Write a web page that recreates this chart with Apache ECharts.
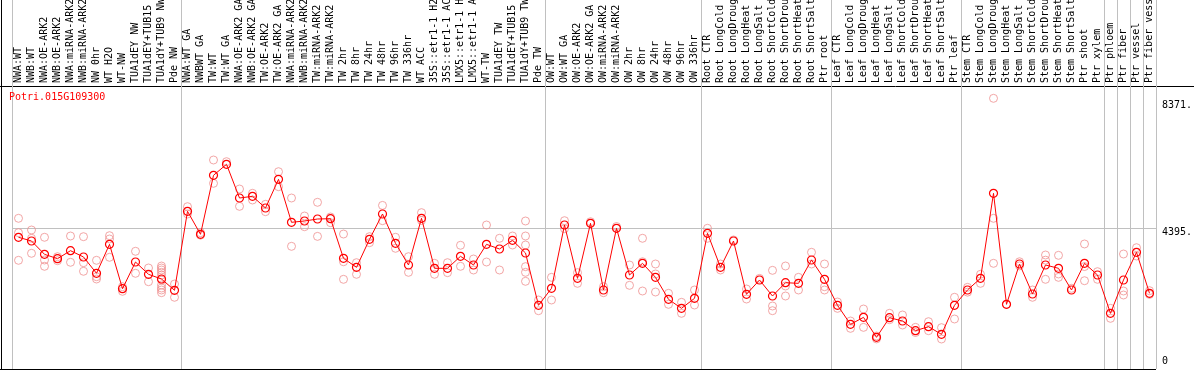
<!DOCTYPE html>
<html><head><meta charset="utf-8">
<script src="https://cdn.jsdelivr.net/npm/echarts@6/dist/echarts.min.js"></script>
<style>html,body{margin:0;padding:0;background:#fff}#c{width:1194px;height:370px}</style>
</head><body><div id="c"></div>
<script>
const geneName = 'Potri.015G109300';

const categories = [
'NWA:WT','NWB:WT','NWA:OE-ARK2','NWB:OE-ARK2','NWA:miRNA-ARK2','NWB:miRNA-ARK2','NW 0hr','WT H2O','WT-NW','TUA1dEY NW','TUA1dEY+TUB15 NW','TUA1dY+TUB9 NW','Pde NW',
'NWA:WT GA','NWBWT GA','TW:WT','TW:WT GA','NWA:OE-ARK2 GA','NWB:OE-ARK2 GA','TW:OE-ARK2','TW:OE-ARK2 GA','NWA:miRNA-ARK2 GA','NWB:miRNA-ARK2 GA','TW:miRNA-ARK2','TW:miRNA-ARK2 GA','TW 2hr','TW 8hr','TW 24hr','TW 48hr','TW 96hr','TW 336hr','WT ACC','35S::etr1-1 H2O','35S::etr1-1 ACC','LMX5::etr1-1 H2O','LMX5::etr1-1 ACC','WT-TW','TUA1dEY TW','TUA1dEY+TUB15 TW','TUA1dY+TUB9 TW','Pde TW',
'OW:WT','OW:WT GA','OW:OE-ARK2','OW:OE-ARK2 GA','OW:miRNA-ARK2','OW:miRNA-ARK2 GA','OW 2hr','OW 8hr','OW 24hr','OW 48hr','OW 96hr','OW 336hr',
'Root CTR','Root LongCold','Root LongDrought','Root LongHeat','Root LongSalt','Root ShortCold','Root ShortDrought','Root ShortHeat','Root ShortSalt','Ptr root',
'Leaf CTR','Leaf LongCold','Leaf LongDrought','Leaf LongHeat','Leaf LongSalt','Leaf ShortCold','Leaf ShortDrought','Leaf ShortHeat','Leaf ShortSalt','Ptr leaf',
'Stem CTR','Stem LongCold','Stem LongDrought','Stem LongHeat','Stem LongSalt','Stem ShortCold','Stem ShortDrought','Stem ShortHeat','Stem ShortSalt','Ptr shoot','Ptr xylem',
'Ptr phloem','Ptr fiber','Ptr vessel','Ptr fiber vessel'
];

const means = [
4114, 3998, 3582, 3446, 3696, 3499, 2989, 3894, 2508, 3342, 2958, 2811, 2458,
4926, 4208, 6050, 6394, 5341, 5394, 5029, 5925, 4582, 4623, 4685, 4695, 3457, 3176, 4051, 4842, 3926,
3249, 4707, 3145, 3145, 3520, 3249, 3894, 3748, 4020, 3623, 1990,
2520, 4498, 2832, 4550, 2468, 4395, 2936, 3301, 2863, 2176, 1895, 2207,
4238, 3176, 3998, 2333, 2780, 2280, 2696, 2676, 3405, 2801,
1990, 1395, 1614, 989, 1603, 1499, 1197, 1322, 1083, 1990,
2468, 2832, 5488, 2020, 3280, 2343, 3249, 3145, 2468, 3301, 2936,
1739, 2780, 3645, 2364
];

const replicates = [
[4707,4258,3395],[4342,4083,3614],[4114,3405,3208],[3508,3383],[4154,3333],[4133,3321,3052],[3395,2883,2811],[4164,4061,3489],[2571,2427],[3677,2989],[3155,2727],[3217,3155,3092,3020,2936,2780,2624,2530,2468,2384],[2655,2240],
[5070,4842],[4258,4180],[6528,5800],[6476],[5622,5081],[5488,5279],[5144,4914],[6163,5695],[5341,3832],[4779,4445],[5207,4143],[4748,4570],[4216,3351,2801],[3321,2958],[4133,3946],[5110,4633],[4114,3770],
[3508,3020],[4884,4640],[3301,2958],[3321,3009],[3864,3208],[3436,3092],[4498,3342],[4083,3092],[4154,3873],[4623,4154,3873,3197,3020,2739],[2155,1821],
[2863,2155],[4633,4383],[3009,2676],[4600],[2571,2384],[4450],[3249,2614],[4083,3350,2436],[3280,2968,2405],[2364,2020],[2083,1739],[2468,1999],
[4395,4083],[3280,3092],[4030],[2499,2186],[2830],[3082,1968,1821],[3217,2593,2280],[2863,2468],[3645,3280],[3280,2571,2468],
[2093,1895],[1499,1270],[1874,1301],[1030,940],[1739,1540],[1687,1374],[1301,1140],[1478,1197],[1291,937],[2240,1562],
[2551,2400],[2958,2676],[8455,4707,3301],[2020],[3350,3220],[2468,2240],[3561,3400,2801],[3551,2968,2863],[2520],[3905,3200,2758],[3040,2801],
[1895,1583],[3592,2436,2311],[3789,3530],[2446,2330]
];

const yTickValues = [4395, 8371];
const yZeroValue = [0];
const groupStarts = [0, 13, 41, 53, 63, 73, 84, 85, 86, 87];

const Y_MAX = 11526;
const FONT = 'DejaVu Sans Mono';

const repPoints = [];
replicates.forEach((arr, i) => arr.forEach(v => repPoints.push([i, v])));

const chart = echarts.init(document.getElementById('c'), null, {renderer: 'canvas'});
const baseY = {
  type: 'value', position: 'right', min: 0, max: Y_MAX,
  axisLine: {show: false}, axisTick: {show: false}, splitLine: {show: false}
};
chart.setOption({
  animation: false,
  title: {text: geneName, left: 9, top: 92, padding: 0, textStyle: {color: '#ff0000', fontSize: 10, fontFamily: FONT, fontWeight: 'normal'}},
  grid: {left: 12, right: 38, top: 0, bottom: 1, containLabel: false, outerBoundsMode: 'none'},
  xAxis: [{
    type: 'category', data: categories, position: 'top', offset: -86, boundaryGap: true,
    axisLine: {show: false}, axisTick: {show: false},
    axisLabel: {interval: 0, rotate: 90, margin: 3, fontSize: 10, fontFamily: FONT, color: '#000'},
    splitLine: {show: true, interval: (i) => groupStarts.includes(i), lineStyle: {color: '#c0c0c0', width: 1}}
  }],
  yAxis: [
    Object.assign({}, baseY, {axisLabel: {customValues: yTickValues, margin: 6, fontSize: 10, fontFamily: FONT, color: '#000', verticalAlign: 'top', lineHeight: 9, formatter: v => v + '.'}}),
    Object.assign({}, baseY, {axisLabel: {customValues: yZeroValue, margin: 6, fontSize: 10, fontFamily: FONT, color: '#000', verticalAlign: 'bottom', lineHeight: 9, padding: [0, 0, 3, 0], formatter: v => String(v)}})
  ],
  series: [
    {
      type: 'scatter', data: repPoints, symbol: 'circle', symbolSize: 8, silent: true, z: 2,
      itemStyle: {color: 'rgba(0,0,0,0)', borderColor: '#ef9090', borderWidth: 1},
      markLine: {silent: true, symbol: 'none', z: 1, label: {show: false},
        lineStyle: {color: '#c0c0c0', width: 1, type: 'solid'}, data: [{yAxis: 4395}]}
    },
    {
      type: 'line', data: means, symbol: 'circle', symbolSize: 8, showSymbol: true, showAllSymbol: true, z: 3, silent: true,
      lineStyle: {color: '#ff0000', width: 1},
      itemStyle: {color: 'rgba(0,0,0,0)', borderColor: '#ff0000', borderWidth: 1.2}
    }
  ],
  graphic: [
    {type: 'line', silent: true, shape: {x1: 0, y1: 86.5, x2: 1194, y2: 86.5}, style: {stroke: '#000', lineWidth: 1}},
    {type: 'line', silent: true, shape: {x1: 1.5, y1: 0, x2: 1.5, y2: 370}, style: {stroke: '#000', lineWidth: 1}},
    {type: 'line', silent: true, shape: {x1: 0, y1: 369.5, x2: 1156, y2: 369.5}, style: {stroke: '#000', lineWidth: 1}}
  ]
});
</script>
</body></html>
